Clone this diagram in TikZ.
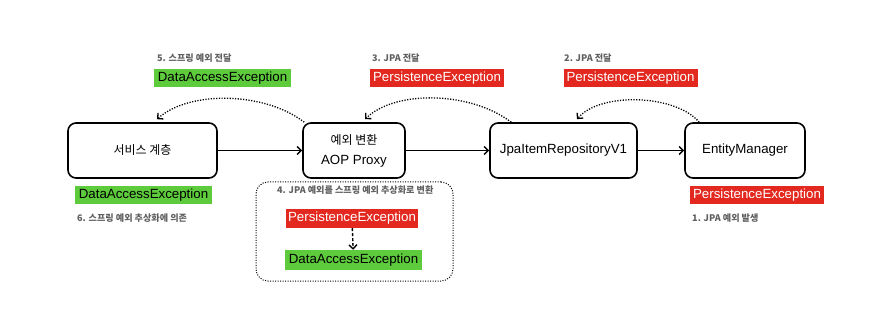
\documentclass[tikz,border=0pt]{standalone}
\usepackage{fontspec}
\setmainfont{Liberation Sans}
\newfontfamily\kr{Noto Sans CJK KR}
\usetikzlibrary{arrows.meta}
\definecolor{exred}{HTML}{E3291F}
\definecolor{exgreen}{HTML}{5DCB3C}
\definecolor{lblgray}{HTML}{606060}
\begin{document}
\begin{tikzpicture}[x=1pt,y=-1pt,
  comp/.style={draw=black,line width=1.6pt,rounded corners=8pt,minimum height=55pt,inner sep=0pt,align=center,font=\fontsize{13.3}{20}\selectfont},
  exbox/.style={inner sep=0pt,minimum height=18pt,font=\fontsize{13.3}{15}\selectfont},
  exr/.style={exbox,fill=exred,text=white,minimum width=134pt},
  exg/.style={exbox,fill=exgreen,text=black,minimum width=137pt},
  lab/.style={anchor=west,inner sep=0pt,text=lblgray,font=\kr\bfseries\fontsize{9.1}{10}\selectfont},
  flow/.style={line width=1.5pt,-{Straight Barb[length=4pt,width=8pt,line width=1.4pt]}},
  ret/.style={line width=1.3pt,dash pattern=on 1.2pt off 1.5pt,-{Straight Barb[length=4pt,width=8pt,line width=1.3pt]}},
  conv/.style={line width=1.4pt,dash pattern=on 3pt off 2pt,-{Straight Barb[length=4pt,width=8pt,line width=1.4pt]}}
]
\useasboundingbox (0,0) rectangle (893,320);

% components
\node[comp,minimum width=149pt] (svc) at (142.5,150.5) {{\kr\fontsize{12}{20}\selectfont 서비스 계층}};
\node[comp,minimum width=102pt] (aop) at (354,150.5) {{\kr\fontsize{12}{20}\selectfont 예외 변환}\\AOP Proxy};
\node[comp,minimum width=147pt] (jpa) at (563.5,150.5) {JpaItemRepositoryV1};
\node[comp,minimum width=120pt] (em) at (745,150.5) {EntityManager};

% call flow
\draw[flow] (svc) -- (aop);
\draw[flow] (aop) -- (jpa);
\draw[flow] (jpa) -- (em);

% exception return flow
\draw[ret] ([xshift=2pt]aop.north west) .. controls (265,92) and (190,90) .. ([xshift=14.5pt,yshift=3pt]svc.north);
\draw[ret] ([xshift=22pt]jpa.north west) .. controls (470,91) and (395,90) .. ([xshift=11pt,yshift=3pt]aop.north);
\draw[ret] ([xshift=15pt]em.north west) .. controls (675,94) and (600,92) .. ([xshift=13.5pt,yshift=3pt]jpa.north);

% labels top
\node[lab] (l5) at (157,58) {5. 스프링 예외 전달};
\node[exg] (e5) at (222.5,78) {DataAccessException};
\node[lab] (l3) at (372,58) {3. JPA 전달};
\node[exr] (e3) at (437,78) {PersistenceException};
\node[lab] (l2) at (564,58) {2. JPA 전달};
\node[exr] (e2) at (630.5,78) {PersistenceException};

% labels bottom
\node[exg] (e6) at (143.5,195.5) {DataAccessException};
\node[lab] (l6) at (77,218) {6. 스프링 예외 추상화에 의존};
\node[exr] (e1) at (757,195) {PersistenceException};
\node[lab] (l1) at (692,218) {1. JPA 예외 발생};

% conversion box
\node[draw=black,line width=1pt,dash pattern=on 1pt off 1.5pt,rounded corners=12pt,minimum width=197pt,minimum height=99pt,inner sep=0pt] (convbox) at (354.5,231.5) {};
\node[lab] (l4) at (277,190) {4. JPA 예외를 스프링 예외 추상화로 변환};
\node[exr,minimum width=132pt,minimum height=19pt] (ir) at (352,218.5) {PersistenceException};
\node[exg,minimum height=20pt] (ig) at (353.5,260) {DataAccessException};
\draw[conv] (ir) -- (ig);
\end{tikzpicture}
\end{document}
